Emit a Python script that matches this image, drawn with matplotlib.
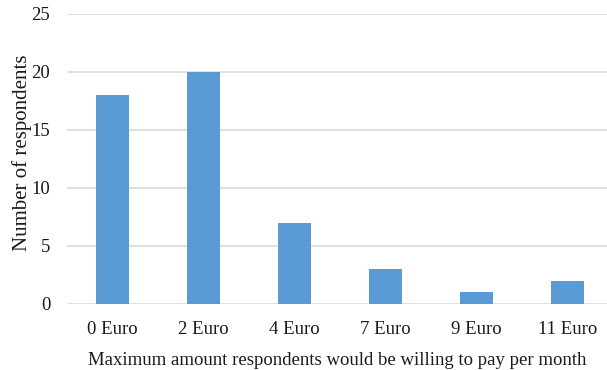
import matplotlib
matplotlib.use("Agg")
import matplotlib.pyplot as plt

categories = ["0 Euro", "2 Euro", "4 Euro", "7 Euro", "9 Euro", "11 Euro"]
respondents = [18, 20, 7, 3, 1, 2]
y_ticks = [0, 5, 10, 15, 20, 25]

plt.rcParams['font.family'] = ['Liberation Serif', 'DejaVu Serif']

fig = plt.figure(figsize=(6.07, 3.70), dpi=100)
ax = fig.add_axes([67/607, 66/370, 540/607, 290/370])

x = list(range(len(categories)))
ax.bar(x, respondents, width=0.37, color='#5b9bd5', zorder=3)

ax.set_xlim(-0.5, -0.5 + 540/91)
ax.set_ylim(0, 25)
ax.set_yticks(y_ticks)
ax.set_xticks(x)
ax.set_xticklabels(categories)
ax.yaxis.grid(True, color='#d9d9d9', linewidth=1.2, zorder=0)
ax.set_axisbelow(True)
for s in ax.spines.values():
    s.set_visible(False)
ax.tick_params(axis='both', length=0, labelsize=13.5, colors='#1a1a1a')
ax.tick_params(axis='y', pad=12)
ax.tick_params(axis='x', pad=12)

ax.set_ylabel("Number of respondents", fontsize=15, color='#1a1a1a', labelpad=0)
ax.yaxis.label.set_y(0.52)
ax.set_xlabel("Maximum amount respondents would be willing to pay per month",
              fontsize=13.5, color='#1a1a1a', labelpad=10)

fig.savefig("out.png", dpi=100)
